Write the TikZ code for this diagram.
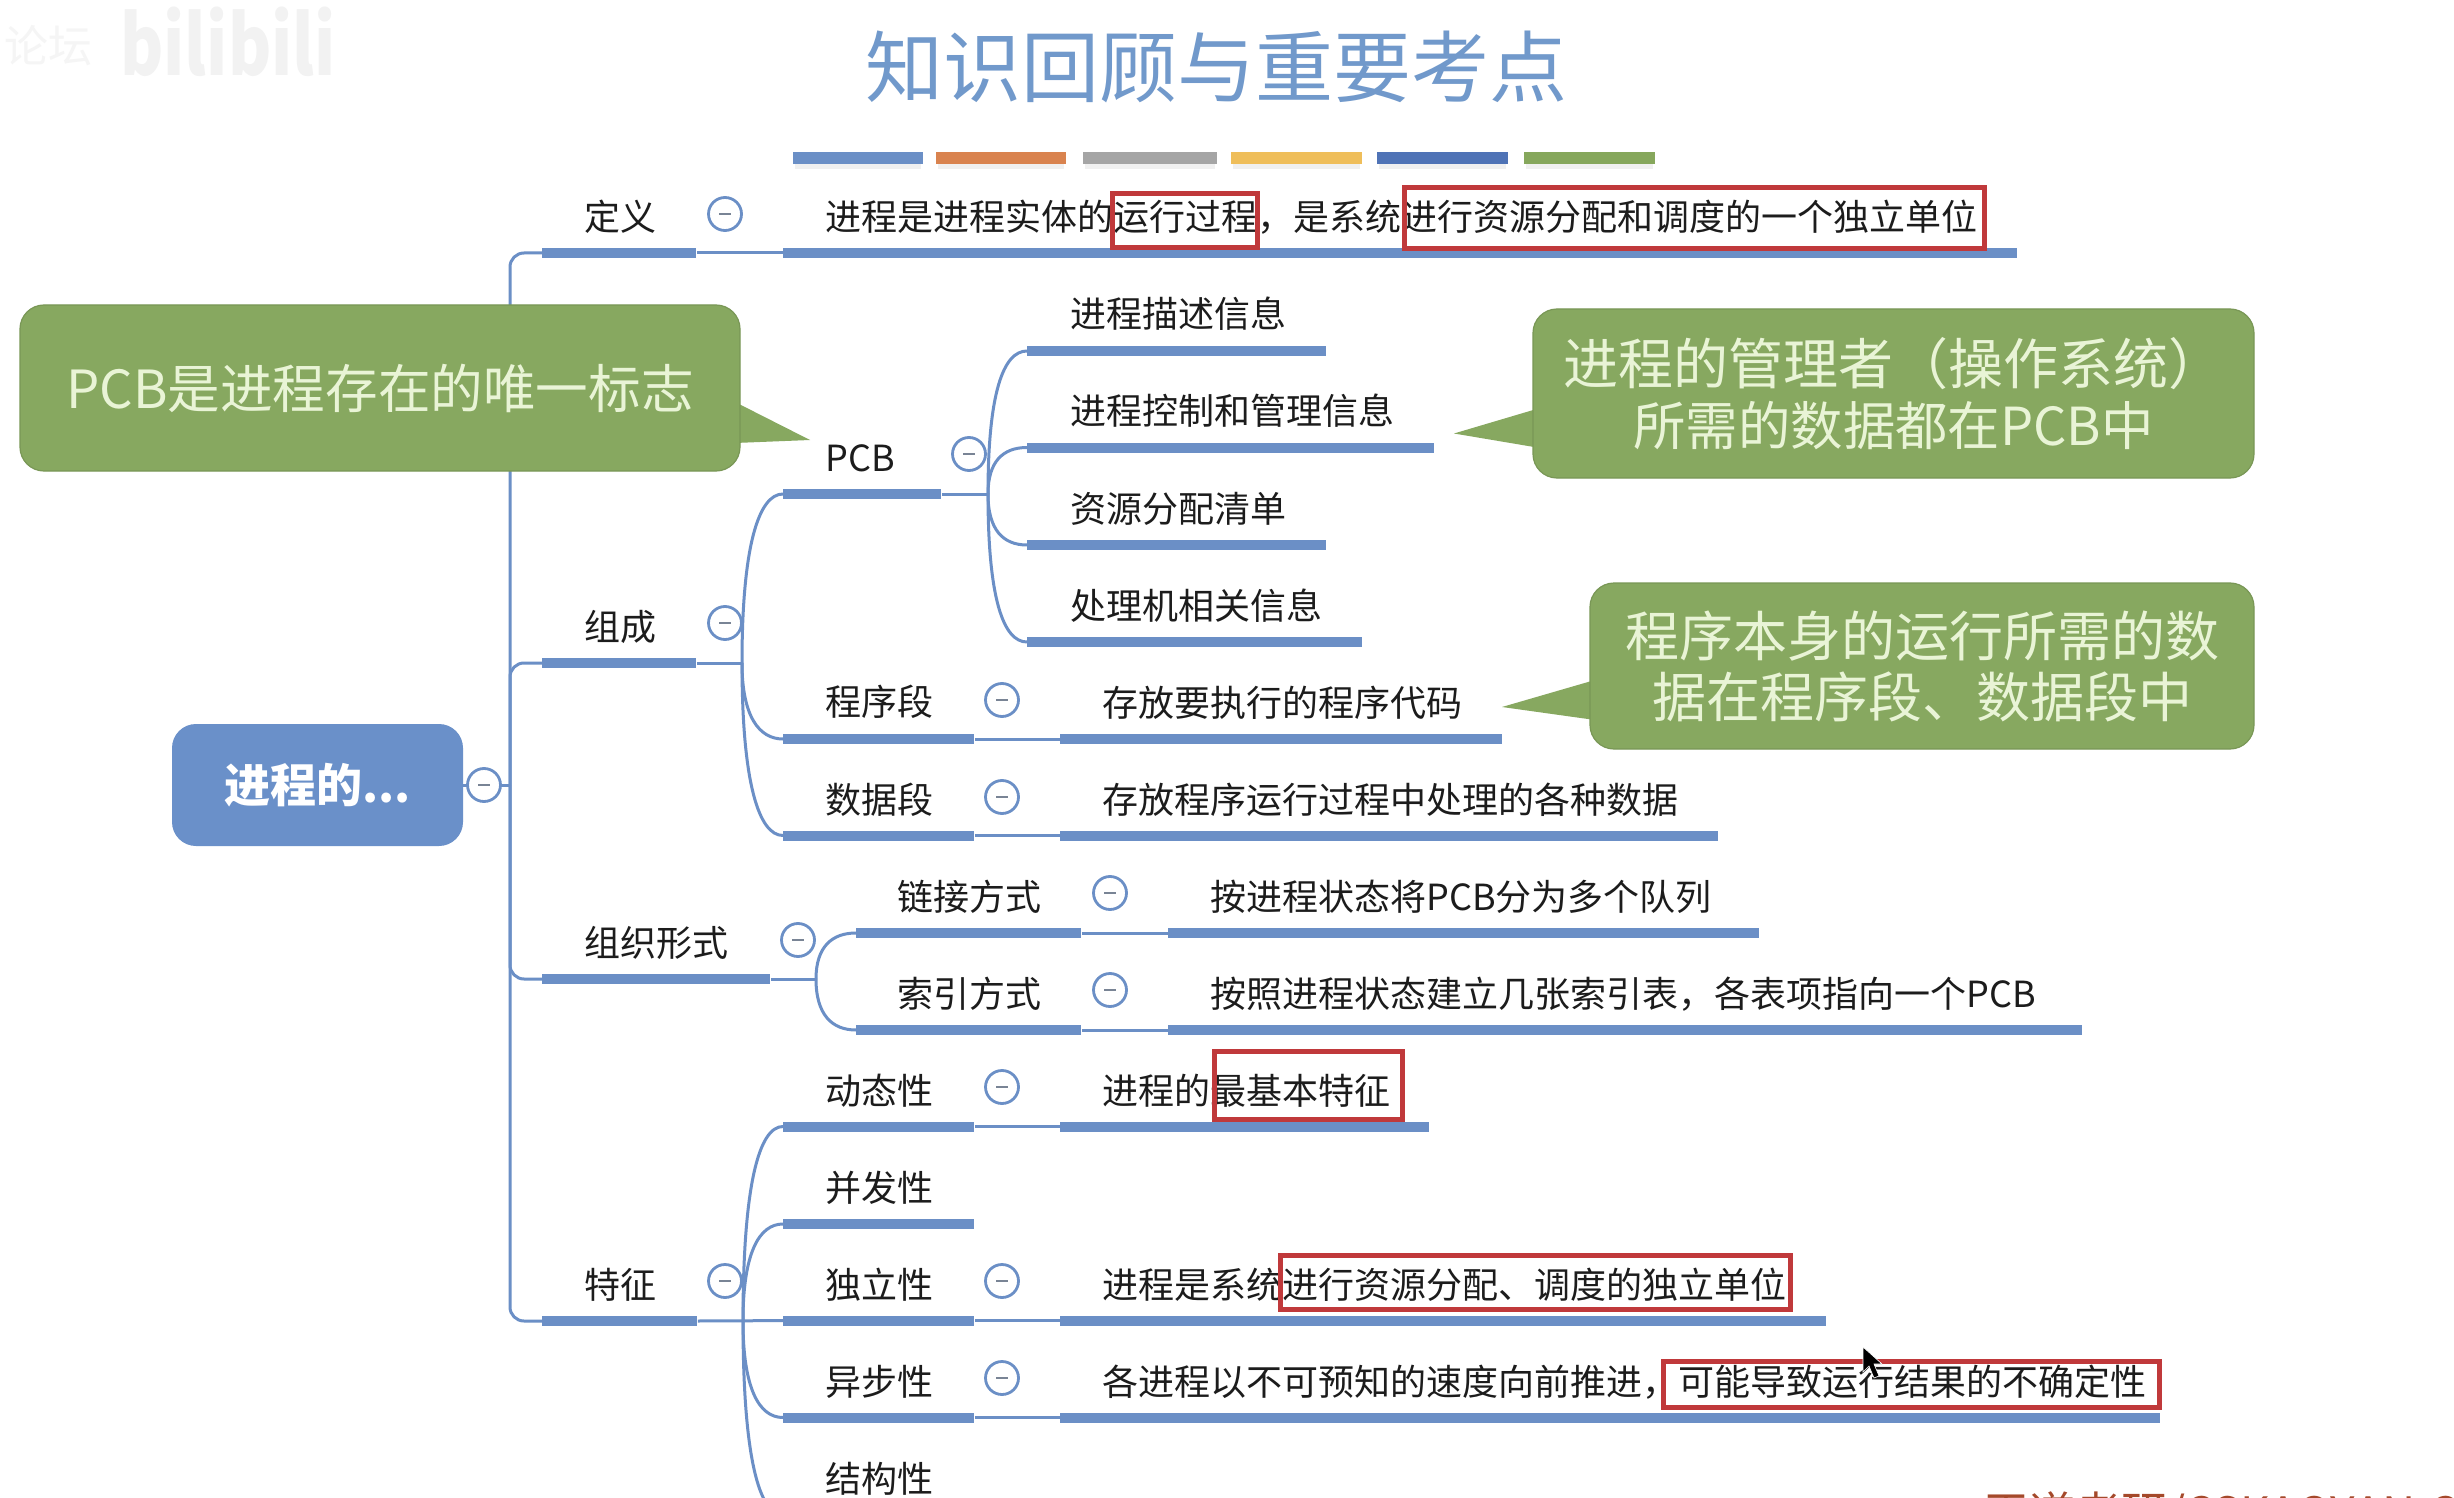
\documentclass[tikz,border=0pt]{standalone}
\usepackage{fontspec}
\setmainfont{Noto Sans CJK SC}
\usetikzlibrary{calc}
\definecolor{barblue}{HTML}{6B8FC6}
\definecolor{titleblue}{HTML}{7199CB}
\definecolor{rootblue}{HTML}{6A90C9}
\definecolor{callgreen}{HTML}{87A860}
\definecolor{calltext}{HTML}{E9F4D6}
\definecolor{ink}{HTML}{1C1C1C}
\definecolor{redbox}{HTML}{C0393B}
\definecolor{cOrange}{HTML}{D9834F}
\definecolor{cGrey}{HTML}{A5A5A5}
\definecolor{cYellow}{HTML}{EFBE5A}
\definecolor{cBlue}{HTML}{4F73B6}
\definecolor{cGreen}{HTML}{86A75C}
\definecolor{brandred}{HTML}{A5492A}
\tikzset{
  hbar/.style={rectangle,fill=barblue,inner sep=0pt,minimum height=5pt,anchor=west},
  conn/.style={draw=barblue,line width=1.5pt},
  label/.style={anchor=west,inner sep=0pt,text height=15.8pt,text depth=2.2pt,font=\fontsize{18}{20}\selectfont,text=ink},
  collapse/.style={circle,draw=barblue,line width=1.4pt,fill=white,inner sep=0pt,minimum size=16.5pt,
    path picture={\draw[gray!70!barblue,line width=1.2pt] ([xshift=-3pt]path picture bounding box.center) -- ([xshift=3pt]path picture bounding box.center);}},
  redmark/.style={draw=redbox,line width=2.6pt},
  callout/.style={rectangle,rounded corners=12pt,fill=callgreen,draw=callgreen!90!black,line width=.6pt,text=calltext,align=center,inner sep=0pt},
  calltip/.style={fill=callgreen},
  swatch/.style={rectangle,inner sep=0pt,minimum height=6pt,anchor=west},
  swatchshadow/.style={fill=black!6}
}
\newcommand{\hb}[4]{\pgfmathsetmacro{\barw}{(#3-#2)/2}\node[hbar,minimum width=\barw pt] (#1) at (#2,#4) {};}
\newcommand{\lab}[4]{\node[label] (#1) at (#2,#3) {#4};}
\newcommand{\swatch}[5]{\pgfmathsetmacro{\barw}{(#3-#2)/2}\fill[swatchshadow] (#2+2,164) rectangle (#3-2,169);\node[swatch,fill=#4,minimum width=\barw pt] (#1) at (#2,#5) {};}
\newcommand{\fork}[2]{\draw[conn] (#1) .. controls ($(#1)!0.7!(#1|-#2.west)$) and ($(#2.west)+(-24,0)$) .. (#2.west);}
\newcommand{\redrect}[5]{\node[redmark,rectangle,inner sep=0pt,anchor=north west,minimum width=#4 pt,minimum height=#5 pt] (#1) at (#2,#3) {};}
\begin{document}
\begin{tikzpicture}[x=.5pt,y=-.5pt]
\useasboundingbox (0,0) rectangle (2454,1498);
\clip (0,0) rectangle (2454,1498);
\fill[white] (0,0) rectangle (2454,1498);

% faint watermark
\node[inner sep=0pt,anchor=center,font=\fontsize{22}{24}\selectfont,text=black!4] (wm1) at (48,46) {论坛};
\node[inner sep=0pt,anchor=center,font=\fontsize{33}{36}\selectfont\bfseries,text=black!5,yscale=1.25,transform shape] (wm2) at (228,42) {bilibili};

% title
\node[inner sep=0pt,font=\fontsize{39}{42}\selectfont,text=titleblue] (title) at (1216,67) {知识回顾与重要考点};
\swatch{s1}{793}{923}{barblue}{158}
\swatch{s2}{936}{1066}{cOrange}{158}
\swatch{s3}{1083}{1217}{cGrey}{158}
\swatch{s4}{1231}{1362}{cYellow}{158}
\swatch{s5}{1377}{1508}{cBlue}{158}
\swatch{s6}{1524}{1655}{cGreen}{158}

% root
\node[rectangle,rounded corners=12pt,fill=rootblue,minimum width=145.5pt,minimum height=61pt,inner sep=0pt,
      text=white,font=\fontsize{23}{25}\selectfont\bfseries] (root) at (317.5,785) {\raisebox{-1pt}{进程的...}};

% main bars
\hb{bDef}{542}{696}{253}
\hb{bCom}{542}{696}{663}
\hb{bOrg}{542}{770}{979}
\hb{bFea}{542}{697}{1321}
\hb{bDefL}{783}{2017}{253}
% components
\hb{bPCB}{783}{941}{494}
\hb{bSeg}{783}{974}{739}
\hb{bDat}{783}{974}{835.5}
\hb{bP1}{1027}{1326}{351}
\hb{bP2}{1027}{1434}{447.5}
\hb{bP3}{1027}{1326}{545}
\hb{bP4}{1027}{1362}{642}
\hb{bSegL}{1060}{1502}{739}
\hb{bDatL}{1060}{1718}{835.5}
% organisation
\hb{bLink}{856}{1081}{933}
\hb{bIdx}{856}{1081}{1030}
\hb{bLinkL}{1168}{1759}{933}
\hb{bIdxL}{1168}{2082}{1030}
% features
\hb{bF1}{783}{974}{1126.5}
\hb{bF2}{783}{974}{1224}
\hb{bF3}{783}{974}{1320.6}
\hb{bF4}{783}{974}{1417.5}
\hb{bF1L}{1060}{1429}{1126.5}
\hb{bF3L}{1060}{1826}{1320.6}
\hb{bF4L}{1060}{2160}{1417.5}
\coordinate (bF5west) at (783,1515);

% labels
\lab{tDef}{584}{217}{定义}
\lab{tDefL}{825}{217}{进程是进程实体的运行过程，是系统进行资源分配和调度的一个独立单位}
\lab{tCom}{584}{627}{组成}
\lab{tPCB}{825}{458}{PCB}
\lab{tSeg}{825}{702}{程序段}
\lab{tDat}{825}{800}{数据段}
\lab{tP1}{1070}{314}{进程描述信息}
\lab{tP2}{1070}{411}{进程控制和管理信息}
\lab{tP3}{1070}{509}{资源分配清单}
\lab{tP4}{1070}{606}{处理机相关信息}
\lab{tSegL}{1102}{703}{存放要执行的程序代码}
\lab{tDatL}{1102}{800}{存放程序运行过程中处理的各种数据}
\lab{tOrg}{584}{943}{组织形式}
\lab{tLink}{897}{897}{链接方式}
\lab{tIdx}{897}{994}{索引方式}
\lab{tLinkL}{1210}{897}{按进程状态将PCB分为多个队列}
\lab{tIdxL}{1210}{994}{按照进程状态建立几张索引表，各表项指向一个PCB}
\lab{tFea}{584}{1285}{特征}
\lab{tF1}{825}{1091}{动态性}
\lab{tF2}{825}{1188}{并发性}
\lab{tF3}{825}{1285}{独立性}
\lab{tF4}{825}{1382}{异步性}
\lab{tF5}{825}{1479}{结构性}
\lab{tF1L}{1102}{1091}{进程的最基本特征}
\lab{tF3L}{1102}{1285}{进程是系统进行资源分配、调度的独立单位}
\lab{tF4L}{1102}{1382}{各进程以不可预知的速度向前推进，可能导致运行结果的不确定性}

% connectors
\coordinate (spine) at (510,785);
\draw[conn] (root.east) -- (spine);
\draw[conn,rounded corners=7pt] (bDef.west) -| (spine) |- (bFea.west);
\draw[conn,rounded corners=7pt] (spine) |- (bCom.west);
\draw[conn,rounded corners=7pt] (spine) |- (bOrg.west);
\draw[conn] (bDef.east) -- (bDefL.west);
% component fork
\coordinate (fCom) at (742,663);
\draw[conn] (bCom.east) -- (fCom);
\fork{fCom}{bPCB}\fork{fCom}{bSeg}\fork{fCom}{bDat}
\coordinate (fPCB) at (988,494);
\draw[conn] (bPCB.east) -- (fPCB);
\fork{fPCB}{bP1}\fork{fPCB}{bP2}\fork{fPCB}{bP3}\fork{fPCB}{bP4}
\draw[conn] (bSeg.east) -- (bSegL.west);
\draw[conn] (bDat.east) -- (bDatL.west);
% organisation fork
\coordinate (fOrg) at (816,979);
\draw[conn] (bOrg.east) -- (fOrg);
\fork{fOrg}{bLink}\fork{fOrg}{bIdx}
\draw[conn] (bLink.east) -- (bLinkL.west);
\draw[conn] (bIdx.east) -- (bIdxL.west);
% feature fork
\coordinate (fFea) at (743,1321);
\draw[conn] (bFea.east) -- (bF3.west);
\fork{fFea}{bF1}\fork{fFea}{bF2}\fork{fFea}{bF4}
\draw[conn] (fFea) .. controls ($(fFea)!0.7!(fFea|-bF5west)$) and ($(bF5west)+(-24,0)$) .. (bF5west);
\draw[conn] (bF1.east) -- (bF1L.west);
\draw[conn] (bF3.east) -- (bF3L.west);
\draw[conn] (bF4.east) -- (bF4L.west);

% collapse marks
\node[collapse] (cRoot) at (484,785) {};
\node[collapse] (cDef) at (725,214) {};
\node[collapse] (cCom) at (725,623) {};
\node[collapse] (cPCB) at (969,454) {};
\node[collapse] (cSeg) at (1002,700) {};
\node[collapse] (cDat) at (1002,797) {};
\node[collapse] (cOrg) at (798,940) {};
\node[collapse] (cLink) at (1110,893) {};
\node[collapse] (cIdx) at (1110,990) {};
\node[collapse] (cFea) at (725,1281) {};
\node[collapse] (cF1) at (1002,1087) {};
\node[collapse] (cF3) at (1002,1281) {};
\node[collapse] (cF4) at (1002,1378) {};

% callouts
\fill[calltip] (735,402) -- (810,440) -- (735,443) -- cycle;
\node[callout,minimum width=360pt,minimum height=83pt,font=\fontsize{26.3}{30}\selectfont] (call1) at (380,388) {PCB是进程存在的唯一标志};
\fill[calltip] (1540,408) -- (1454,433.5) -- (1540,448) -- cycle;
\node[callout,minimum width=360.5pt,minimum height=84.5pt,font=\fontsize{26.2}{30.5}\selectfont] (call2) at (1893.5,393.5) {{\fontsize{27.5}{30.5}\selectfont 进程的管理者（操作系统）}\\所需的数据都在PCB中};
\fill[calltip] (1595,680) -- (1502,707) -- (1595,720) -- cycle;
\node[callout,minimum width=332pt,minimum height=83pt,font=\fontsize{27}{30.5}\selectfont] (call3) at (1922,666) {程序本身的运行所需的数\\据在程序段、数据段中};

% red marks
\redrect{r1}{1110}{191}{72.4}{27}
\redrect{r2}{1402}{185}{290}{30.5}
\redrect{r3}{1211.5}{1049}{94}{34}
\redrect{r4}{1278}{1253}{255}{27}
\redrect{r5}{1661}{1359}{248}{23}

% brand line at the bottom edge
\node[inner sep=0pt,anchor=base west,font=\fontsize{23}{25}\selectfont,text=brandred] (brand) at (1983,1530) {王道考研/CSKAOYAN.COM};

% mouse pointer
\draw[fill=black,draw=white,line width=.3pt] (1863,1347) -- (1863,1372) -- (1869,1366) -- (1874,1378) -- (1879,1376) -- (1874,1364) -- (1882,1364) -- cycle;
\end{tikzpicture}
\end{document}
